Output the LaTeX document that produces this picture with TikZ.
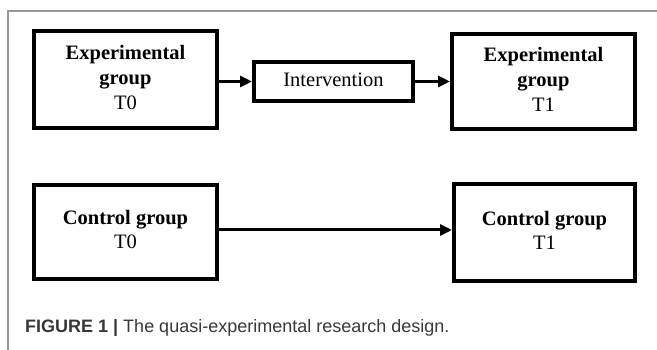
\documentclass[tikz,border=0pt]{standalone}
\usepackage{graphicx}
\usepackage{fontspec}
\setmainfont{Liberation Serif}
\newfontfamily\capfont{Liberation Sans}
\usetikzlibrary{arrows.meta}
\newcommand\vtxt[2][0pt]{\raisebox{-#1}{\begin{tabular}{@{}c@{}}#2\end{tabular}}}
\tikzset{
  gbox/.style={draw=black, line width=4pt, fill=white, inner sep=0pt,
    font=\fontsize{20.5}{25}\selectfont},
  conn/.style={line width=3pt, -{Triangle[length=12pt,width=11pt]}},
  frame/.style={draw=gray!80, line width=1.4pt}
}
\begin{document}
\begin{tikzpicture}[x=1pt,y=-1pt]
\useasboundingbox (0,0) rectangle (657,350);
\draw[frame] (8,350) -- (8,11) -- (657,11);
\node[gbox, minimum width=183pt, minimum height=97pt] (eg0) at (125.5,79.5) {\vtxt[5pt]{\textbf{Experimental}\\\textbf{group}\\T0}};
\node[gbox, minimum width=159pt, minimum height=39pt] (int) at (333.5,81.5) {\vtxt[2.5pt]{Intervention}};
\node[gbox, minimum width=183pt, minimum height=95pt] (eg1) at (543.5,81.5) {\vtxt[5pt]{\textbf{Experimental}\\\textbf{group}\\T1}};
\node[gbox, minimum width=183pt, minimum height=94pt] (cg0) at (125.5,232) {\fontsize{20.5}{24}\selectfont\vtxt{\textbf{Control group}\\T0}};
\node[gbox, minimum width=181pt, minimum height=97pt] (cg1) at (544.5,232.5) {\fontsize{20.5}{24}\selectfont\vtxt{\textbf{Control group}\\T1}};
\draw[conn] (eg0.east |- int.west) -- (int.west);
\draw[conn] (int.east) -- (eg1.west |- int.east);
\coordinate (a0) at (cg0.east |- 0,230);
\coordinate (a1) at (cg1.west |- 0,230);
\draw[conn] (a0) -- (a1);
\node[anchor=base west, inner sep=0pt, text=black!78, font=\capfont\fontsize{18}{22}\selectfont] (cap) at (25,333) {\textbf{FIGURE 1 |} The quasi-experimental research design.};
\end{tikzpicture}
\end{document}
